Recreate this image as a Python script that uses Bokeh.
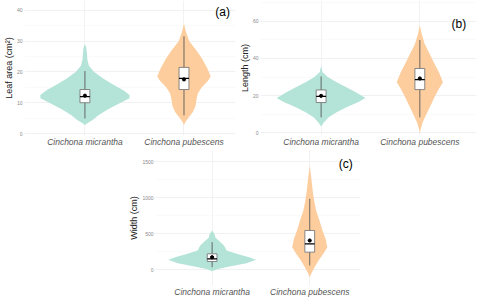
from bokeh.plotting import figure
from bokeh.layouts import column, row, Spacer
from bokeh.models import Range1d, FixedTicker, SingleIntervalTicker, Label
from bokeh.embed import file_html
from bokeh.resources import INLINE

# ---------------- data ----------------
species = ["Cinchona micrantha", "Cinchona pubescens"]

# Violin outlines: value levels and relative density (1 = widest in the figure)
a_mic_levels = [2.8, 3.5, 4.5, 6, 8, 10, 11.5, 12.5, 14, 16, 18, 20, 21, 22, 24, 26, 28, 29]
a_mic_dens = [0, 0.07, 0.18, 0.31, 0.53, 0.8, 1.0, 1.0, 0.87, 0.62, 0.4, 0.21, 0.15, 0.09, 0.055, 0.045, 0.03, 0]
a_pub_levels = [2.6, 3.5, 5, 7, 9, 11, 13, 15, 17, 18.5, 21, 24, 27, 30, 33, 35.7]
a_pub_dens = [0, 0.02, 0.09, 0.2, 0.26, 0.28, 0.31, 0.4, 0.53, 0.6, 0.53, 0.42, 0.28, 0.12, 0.045, 0]

b_mic_levels = [3.2, 5.6, 8.3, 11, 13.7, 16.4, 18.7, 21.8, 24.5, 27.2, 30, 32.6, 36]
b_mic_dens = [0, 0.065, 0.17, 0.35, 0.57, 0.83, 1.0, 0.78, 0.57, 0.35, 0.15, 0.033, 0]
b_pub_levels = [-0.7, 1.1, 5.6, 10, 14.5, 19.1, 23.6, 27.2, 32.6, 37.1, 42.5, 47.9, 53.3, 57.8]
b_pub_dens = [0, 0.01, 0.065, 0.15, 0.24, 0.33, 0.43, 0.52, 0.43, 0.33, 0.22, 0.11, 0.043, 0]

c_mic_levels = [-23, 5, 42, 88, 134, 171, 218, 264, 333, 403, 440, 495, 542]
c_mic_dens = [0, 0.11, 0.4, 0.78, 1.0, 0.84, 0.56, 0.33, 0.27, 0.15, 0.078, 0.055, 0]
c_pub_levels = [-106, -60, 32, 125, 218, 310, 426, 542, 681, 819, 958, 1097, 1282, 1444]
c_pub_dens = [0, 0.033, 0.11, 0.2, 0.31, 0.4, 0.36, 0.29, 0.22, 0.145, 0.1, 0.067, 0.033, 0]

# Box-plot statistics per species: [micrantha, pubescens]
a_low = [4.9, 5.9]; a_q1 = [10.0, 14.3]; a_med = [12.0, 17.9]; a_q3 = [14.3, 21.5]; a_high = [20.3, 31.6]; a_mean = [12.3, 17.6]
b_low = [8.2, 8.2]; b_q1 = [16.2, 23.2]; b_med = [19.5, 28.6]; b_q3 = [23.0, 34.6]; b_high = [30.3, 50.0]; b_mean = [19.8, 29.2]
c_low = [32, 56]; c_q1 = [111, 241]; c_med = [148, 356]; c_q3 = [218, 542]; c_high = [380, 982]; c_mean = [171, 403]

a_ticks = [0, 10, 20, 30, 40]
b_ticks = [0, 20, 40, 60]
c_ticks = [0, 500, 1000, 1500]

# ---------------- style ----------------
FONT = "Liberation Sans"
TEAL = "#B4E3D8"
ORANGE = "#FDCD9E"
VMAX = 0.45      # half-width of the widest violin, in category units
BOXW = 0.05      # half-width of box


def make_panel(width, height, xr, yr, tick_int, ticks, ylabel, tag, tag_xy,
               violins, stats, mb_left, mb_right, mb_bottom):
    p = figure(width=width, height=height, output_backend="svg", toolbar_location=None,
               x_range=Range1d(*xr), y_range=Range1d(*yr),
               min_border_left=mb_left, min_border_right=mb_right,
               min_border_top=0, min_border_bottom=mb_bottom)
    p.outline_line_color = None
    p.background_fill_color = "white"

    # axes
    p.xaxis.ticker = FixedTicker(ticks=[1, 2])
    p.xaxis.major_label_overrides = {1: species[0], 2: species[1]}
    p.xaxis.major_label_text_font = FONT
    p.xaxis.major_label_text_font_style = "italic"
    p.xaxis.major_label_text_font_size = "8.5px"
    p.xaxis.major_label_text_color = "#555555"
    p.xaxis.major_label_standoff = 1
    p.xaxis.axis_line_color = None
    p.xaxis.major_tick_line_color = None
    p.xaxis.minor_tick_line_color = None
    p.xaxis.major_tick_out = 0
    p.xaxis.major_tick_in = 0
    p.xaxis.minor_tick_out = 0
    p.xaxis.minor_tick_in = 0

    p.yaxis.ticker = SingleIntervalTicker(interval=tick_int, num_minor_ticks=2)
    p.yaxis.major_label_text_font = FONT
    p.yaxis.major_label_text_font_size = "5px"
    p.yaxis.major_label_text_color = "#8a8a8a"
    p.yaxis.major_label_standoff = 2
    p.yaxis.axis_label = ylabel
    p.yaxis.axis_label_text_font = FONT
    p.yaxis.axis_label_text_font_style = "normal"
    p.yaxis.axis_label_text_font_size = "9px"
    p.yaxis.axis_label_text_color = "#222222"
    p.yaxis.axis_label_standoff = 0
    p.yaxis.axis_line_color = None
    p.yaxis.major_tick_line_color = None
    p.yaxis.minor_tick_line_color = None
    p.yaxis.major_tick_out = 0
    p.yaxis.major_tick_in = 0
    p.yaxis.minor_tick_out = 0
    p.yaxis.minor_tick_in = 0

    p.xgrid.grid_line_color = "#ECECEC"
    p.xgrid.grid_line_width = 0.7
    p.ygrid.grid_line_color = "#EDEDED"
    p.ygrid.grid_line_width = 0.7
    p.ygrid.minor_grid_line_color = "#F6F6F6"
    p.ygrid.minor_grid_line_width = 0.6

    # violins
    for i, (levels, dens, color) in enumerate(violins):
        cx = i + 1
        xs = [cx + VMAX * d for d in dens] + [cx - VMAX * d for d in reversed(dens)]
        ys = list(levels) + list(reversed(levels))
        p.patch(xs, ys, fill_color=color, line_color=None)

    low, q1, med, q3, high, mean = stats
    cxs = [1, 2]
    p.segment(x0=cxs, y0=low, x1=cxs, y1=high, line_color="#5a5a5a", line_width=0.9)
    p.quad(left=[c - BOXW for c in cxs], right=[c + BOXW for c in cxs], bottom=q1, top=q3,
           fill_color="white", line_color="#7a7a7a", line_width=0.9)
    p.segment(x0=[c - BOXW for c in cxs], y0=med, x1=[c + BOXW for c in cxs], y1=med,
              line_color="black", line_width=1.3)
    p.scatter(cxs, mean, size=3.2, marker="circle", fill_color="black", line_color="black")

    p.add_layout(Label(x=tag_xy[0], y=tag_xy[1], text=tag, text_font=FONT,
                       text_font_size="12px", text_color="black",
                       text_align="center", text_baseline="middle"))
    return p


pa = make_panel(236, 150, (0.39, 2.52), (-0.65, 43.25), 10, a_ticks, "Leaf area (cm²)",
                "(a)", (2.39, 39.35),
                [(a_mic_levels, a_mic_dens, TEAL), (a_pub_levels, a_pub_dens, ORANGE)],
                (a_low, a_q1, a_med, a_q3, a_high, a_mean), 22, 1, 15)
pb = make_panel(244, 150, (0.386, 2.574), (-1.62, 71.35), 20, b_ticks, "Length (cm)",
                "(b)", (2.396, 58.9),
                [(b_mic_levels, b_mic_dens, TEAL), (b_pub_levels, b_pub_dens, ORANGE)],
                (b_low, b_q1, b_med, b_q3, b_high, b_mean), 19, 4, 15)
pc = make_panel(236, 150, (0.42, 2.52), (-222, 1653), 500, c_ticks, "Width (cm)",
                "(c)", (2.37, 1472),
                [(c_mic_levels, c_mic_dens, TEAL), (c_pub_levels, c_pub_dens, ORANGE)],
                (c_low, c_q1, c_med, c_q3, c_high, c_mean), 24, 2, 15)

layout = column(row(pa, pb), row(Spacer(width=126, height=150), pc))

open("out.html", "w").write(file_html(layout, INLINE))
